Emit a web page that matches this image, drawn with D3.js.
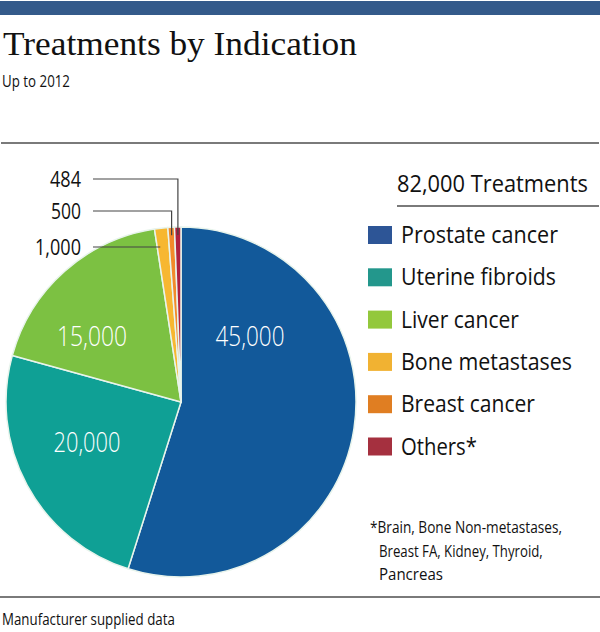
<!DOCTYPE html>
<html>
<head>
<meta charset="utf-8">
<script src="https://cdn.jsdelivr.net/npm/d3@7"></script>
<style>
  html, body { margin: 0; padding: 0; background: #fff; }
  svg { display: block; }
  .sans { font-family: "Open Sans", "Noto Sans", sans-serif; }
</style>
</head>
<body>
<svg id="chart" width="600" height="632"></svg>
<script>
// ---- data ----
const categories = ["Prostate cancer", "Uterine fibroids", "Liver cancer", "Bone metastases", "Breast cancer", "Others*"];
const values = [45000, 20000, 15000, 1000, 500, 484];
const valueLabels = ["45,000", "20,000", "15,000", "1,000", "500", "484"];
const sliceColors = ["#12599a", "#0fa095", "#7cc142", "#f7b731", "#f28a2a", "#b0213f"];
const legendColors = ["#2d5596", "#23978c", "#93c83c", "#f1b232", "#e07e22", "#a5303f"];
const totalLabel = "82,000 Treatments";
const title = "Treatments by Indication";
const subtitle = "Up to 2012";
const footnoteLines = ["*Brain, Bone Non-metastases,", "Breast FA, Kidney,  Thyroid,", "Pancreas"];
const source = "Manufacturer supplied data";

const textWidths = {
  "Up to 2012": 68, "484": 31, "500": 30, "1,000": 46,
  "45,000": 69, "20,000": 67, "15,000": 70,
  "82,000 Treatments": 191,
  "Prostate cancer": 157, "Uterine fibroids": 155, "Liver cancer": 118,
  "Bone metastases": 171, "Breast cancer": 134, "Others*": 76,
  "*Brain, Bone Non-metastases,": 192, "Breast FA, Kidney,  Thyroid,": 164, "Pancreas": 64,
  "Manufacturer supplied data": 173,
  "Treatments by Indication": 354
};
// draw text at (x, y) with left edge x and horizontally condensed to the target width
function addText(parent, t, x, y, size, attrs = {}) {
  const gT = parent.append("g");
  const el = gT.append("text").attr("x", 0).attr("y", 0).attr("font-size", size).text(t);
  Object.entries(attrs).forEach(([k, v]) => el.attr(k, v));
  const w = el.node().getComputedTextLength();
  const k = textWidths[t] ? textWidths[t] / w : 1;
  gT.attr("transform", `translate(${x},${y}) scale(${k},1)`);
  return gT;
}

const W = 600, H = 632;
const cx = 181, cy = 402, R = 175;
const svg = d3.select("#chart");

// top bar
svg.append("rect").attr("x", 0).attr("y", 1).attr("width", W).attr("height", 14).attr("fill", "#345a8a");

addText(svg, title, 3, 55, 34, {"font-family": "'Liberation Serif', 'Times New Roman', serif", fill: "#111"});
addText(svg, subtitle, 2, 87, 17, {class: "sans", fill: "#111"});

// rules
const rule = (y, x1, x2) => svg.append("line").attr("x1", x1).attr("x2", x2).attr("y1", y).attr("y2", y)
  .attr("stroke", "#7a7a7a").attr("stroke-width", 2);
rule(143, 1, 599);
rule(597, 0, 600);

// pie
const pie = d3.pie().sort(null).value(d => d)(values);
const arc = d3.arc().innerRadius(0).outerRadius(R);
const g = svg.append("g").attr("transform", `translate(${cx},${cy})`);
g.selectAll("path").data(pie).join("path")
  .attr("d", arc)
  .attr("fill", (d, i) => sliceColors[i])
  .attr("stroke", "#e8f4ec").attr("stroke-width", 1.5).attr("stroke-linejoin", "round");

// in-slice labels (offsets from pie centre)
const insideOffsets = [[69, -66], [-94, 40], [-89, -66]];
insideOffsets.forEach((o, i) => {
  const t = valueLabels[i];
  addText(g, t, o[0] - textWidths[t] / 2, o[1] + 10, 27, {class: "sans", "font-weight": 300, fill: "#fff"});
});

// callouts for small slices
const calloutY = {3: 247, 4: 211, 5: 179};
const calloutLabelX = 81, calloutLineX = 93;
[5, 4, 3].forEach(i => {
  const d = pie[i];
  const mid = (d.startAngle + d.endAngle) / 2;
  const y = calloutY[i];
  let path;
  if (i === 3) {
    const yy = y - cy;
    const x = Math.tan(mid) * (-yy);
    path = `M${calloutLineX},${y}H${cx + x - 3}`;
  } else {
    const rr = R - 8;
    const px = cx + rr * Math.sin(mid);
    const py = cy - rr * Math.cos(mid);
    path = `M${calloutLineX},${y}H${px}V${py}`;
  }
  svg.append("path").attr("d", path).attr("fill", "none").attr("stroke", "#444").attr("stroke-width", 1.2);
  const lbl = valueLabels[i];
  addText(svg, lbl, calloutLabelX - textWidths[lbl], y + 8, 21, {class: "sans", fill: "#111"});
});

// legend
addText(svg, totalLabel, 397, 192, 24, {class: "sans", fill: "#111"});
rule(206, 397, 599);

categories.forEach((c, i) => {
  const y = 235 + i * 42.3;
  svg.append("rect").attr("x", 368).attr("y", y - 9).attr("width", 24).attr("height", 18).attr("fill", legendColors[i]);
  addText(svg, c, 401, y + 8, 23, {class: "sans", fill: "#111"});
});

// footnote
footnoteLines.forEach((l, i) => {
  addText(svg, l, i === 0 ? 370 : 379, 533 + i * 23.5, 16, {class: "sans", fill: "#111"});
});

addText(svg, source, 2, 625, 16, {class: "sans", fill: "#111"});
</script>
</body>
</html>
